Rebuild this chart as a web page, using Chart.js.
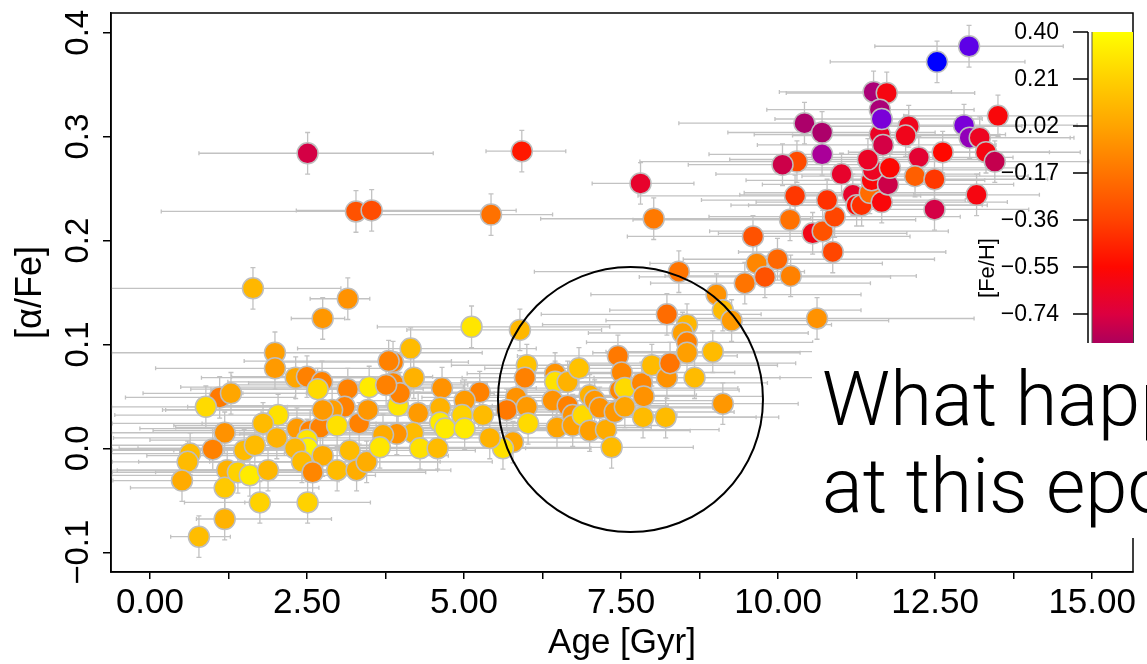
<!DOCTYPE html>
<html>
<head>
<meta charset="utf-8">
<script src="https://cdn.jsdelivr.net/npm/chart.js@4.4.0/dist/chart.umd.min.js"></script>
<style>
  html, body { margin: 0; padding: 0; background: #fff; }
</style>
</head>
<body>
<canvas id="alphaChart" width="1147" height="664"></canvas>
<script>
// --- dados: idade (Gyr), [alpha/Fe], [Fe/H], barras de erro em idade ---
const age = [
  2.51, 3.28, 3.53, 5.43, 5.92, 7.81, 8.02, 1.64, 3.15, 2.75, 5.12, 5.89, 8.42, 8.23, 8.55, 9.02, 9.12, 9.26, 9.47, 9.66,
  9.79, 9.99, 10.20, 9.60, 10.19, 10.62, 10.55, 10.71, 10.87, 10.90, 10.78, 10.27, 10.30, 10.07, 10.42, 10.70, 10.70, 11.01, 11.19, 11.25,
  11.33, 11.46, 11.65, 11.49, 11.51, 11.43, 11.75, 11.78, 11.62, 11.67, 11.52, 11.73, 11.62, 11.65, 12.08, 12.03, 12.62, 12.24, 12.18, 12.49,
  12.49, 13.16, 12.53, 13.04, 12.96, 13.05, 13.21, 13.31, 13.45, 13.50,
  6.00, 5.97, 5.83, 5.68, 6.00, 6.02, 5.78, 5.62, 6.45, 6.45, 6.65, 6.83, 6.41, 6.65, 6.48, 6.73, 6.73, 6.89, 7.00, 7.08,
  7.16, 7.00, 7.26, 7.35, 7.45, 7.51, 7.48, 7.56, 7.40, 7.56, 7.83, 7.86, 7.85, 8.21, 7.99, 8.23, 8.28, 8.67, 8.48, 8.55,
  8.55, 8.96, 9.12,
  4.15, 4.20, 3.87, 3.87, 3.95, 3.98, 4.27, 4.19, 3.93, 4.30, 4.65, 4.62, 4.62, 4.70, 4.58, 5.25, 5.01, 4.97, 5.01, 5.30, 5.41,
  1.99, 1.99, 2.32, 2.50, 2.74, 2.67, 3.15, 3.49, 3.80, 3.76, 1.11, 1.29, 0.89, 2.04, 1.80, 2.02, 1.19, 1.00, 0.64, 0.60,
  0.51, 1.23, 1.19, 1.40, 1.59, 1.50, 1.67, 1.88, 2.34, 2.55, 2.71, 2.50, 2.51, 2.31, 2.42, 2.75, 2.59, 2.98, 3.18, 3.29,
  3.45, 3.71, 3.66, 3.33, 3.10, 2.90, 2.75, 2.98, 3.47, 1.75, 2.51, 1.19, 0.78
];
const alphaFe = [
  0.284, 0.228, 0.229, 0.225, 0.286, 0.255, 0.221, 0.154, 0.144, 0.125, 0.117, 0.114, 0.170, 0.129, 0.119, 0.148, 0.133, 0.123, 0.159, 0.178,
  0.165, 0.182, 0.166, 0.204, 0.220, 0.125, 0.207, 0.209, 0.189, 0.223, 0.239, 0.243, 0.276, 0.273, 0.313, 0.304, 0.283, 0.264, 0.244, 0.234,
  0.234, 0.246, 0.237, 0.258, 0.268, 0.278, 0.254, 0.270, 0.302, 0.292, 0.343, 0.342, 0.326, 0.317, 0.310, 0.301, 0.285, 0.280, 0.262, 0.259,
  0.230, 0.244, 0.372, 0.387, 0.311, 0.299, 0.299, 0.285, 0.276, 0.320,
  0.080, 0.068, 0.049, 0.037, 0.040, 0.024, 0.006, 0.000, 0.072, 0.064, 0.064, 0.077, 0.046, 0.041, 0.020, 0.032, 0.022, 0.032, 0.051, 0.046,
  0.039, 0.017, 0.018, 0.001, 0.089, 0.073, 0.056, 0.058, 0.035, 0.040, 0.063, 0.050, 0.030, 0.030, 0.080, 0.068, 0.082, 0.068, 0.111, 0.102,
  0.092, 0.093, 0.043,
  0.096, 0.068, 0.083, 0.063, 0.041, 0.053, 0.034, 0.015, 0.014, 0.000, 0.058, 0.039, 0.025, 0.019, 0.000, 0.054, 0.046, 0.032, 0.019, 0.032, 0.010,
  0.092, 0.077, 0.068, 0.069, 0.064, 0.057, 0.057, 0.059, 0.084, 0.061, 0.049, 0.053, 0.040, 0.032, 0.024, 0.010, 0.015, -0.001, -0.005, -0.013,
  -0.031, -0.021, -0.038, -0.023, -0.026, -0.002, 0.003, -0.021, 0.019, 0.017, 0.020, 0.008, 0.000, 0.000, -0.013, -0.007, -0.023, -0.021, -0.002, -0.021,
  -0.013, 0.013, 0.001, 0.024, 0.040, 0.037, 0.037, 0.022, 0.037, -0.052, -0.052, -0.068, -0.085
];
const feh = [
  -0.76, -0.30, -0.32, -0.18, -0.50, -0.68, -0.15, 0.10, -0.05, -0.03, 0.30, 0.10, -0.17, -0.20, 0.10, -0.05, 0.12, -0.02, -0.17, -0.10,
  -0.30, -0.22, -0.12, -0.30, -0.18, -0.05, -0.62, -0.30, -0.35, -0.35, -0.42, -0.40, -0.33, -0.78, -0.88, -0.88, -0.95, -0.68, -0.68, -0.55,
  -0.42, -0.20, -0.58, -0.57, -0.65, -0.66, -0.78, -0.56, -0.66, -0.76, -0.90, -0.60, -0.90, -1.05, -0.63, -0.63, -0.55, -0.70, -0.25, -0.40,
  -0.76, -0.60, -1.25, -1.12, -1.05, -1.00, -0.65, -0.60, -0.80, -0.58,
  0.15, -0.12, -0.05, -0.15, -0.02, 0.25, 0.03, 0.28, -0.05, 0.28, 0.08, 0.15, -0.05, -0.12, 0.02, -0.05, 0.00, 0.25, 0.08, -0.03,
  -0.05, 0.00, 0.05, 0.12, -0.15, -0.10, -0.10, 0.25, -0.03, 0.02, -0.10, -0.05, 0.12, 0.12, 0.12, -0.05, -0.17, 0.12, 0.00, -0.12,
  0.00, 0.12, -0.03,
  0.12, 0.08, -0.12, -0.10, 0.30, -0.12, -0.02, 0.12, -0.05, 0.28, -0.05, 0.08, 0.32, 0.32, 0.12, -0.12, -0.02, 0.22, 0.32, 0.12, 0.08,
  0.00, -0.02, 0.03, -0.12, -0.12, 0.25, -0.12, 0.32, -0.12, -0.12, -0.15, 0.03, 0.25, 0.28, 0.12, 0.08, -0.05, -0.12, 0.12, 0.12,
  0.05, 0.08, 0.18, 0.22, 0.32, 0.12, 0.12, 0.10, -0.02, -0.12, -0.12, 0.30, 0.35, 0.10, 0.12, 0.06, -0.10, 0.12, 0.12, 0.06,
  0.06, 0.05, 0.30, -0.12, -0.12, 0.00, -0.02, 0.28, -0.03, 0.22, 0.22, 0.08, 0.13
];
const ageErrLo = [
  1.73, 3.10, 1.20, 2.00, 0.57, 0.77, 1.80, 2.30, 0.60, 0.50, 1.50, 1.80, 2.30, 2.00, 2.30, 2.00, 1.80, 2.00, 1.50, 1.70,
  2.00, 1.50, 2.00, 2.00, 2.50, 2.20, 1.50, 1.80, 1.50, 2.00, 2.00, 2.50, 2.50, 1.50, 2.00, 1.50, 1.80, 2.00, 1.80, 2.00,
  1.80, 2.00, 2.00, 2.00, 1.50, 2.20, 2.00, 1.80, 2.00, 2.00, 1.50, 1.60, 1.80, 1.70, 1.50, 1.80, 1.50, 2.00, 1.80, 1.50,
  1.20, 1.00, 1.70, 1.50, 1.40, 1.50, 1.50, 1.50, 1.30, 1.50,
  1.20, 1.00, 1.50, 1.30, 1.50, 1.50, 1.20, 1.00, 1.40, 1.50, 1.40, 1.50, 1.50, 1.80, 1.60, 1.70, 1.50, 1.50, 1.60, 1.80,
  1.50, 2.00, 1.80, 1.60, 1.60, 1.50, 1.50, 1.60, 1.70, 1.50, 1.50, 1.50, 1.40, 1.30, 1.50, 1.80, 1.60, 1.60, 1.50, 1.60,
  1.50, 1.70, 1.30,
  1.80, 2.00, 2.00, 2.30, 3.00, 2.50, 2.50, 2.20, 2.50, 2.50, 1.80, 1.90, 2.00, 2.20, 1.50, 1.40, 1.50, 2.20, 1.80, 1.80, 1.50,
  2.60, 1.90, 1.50, 1.20, 1.50, 1.70, 2.50, 3.00, 2.30, 2.50, 1.50, 1.40, 1.50, 2.60, 2.40, 2.60, 1.80, 1.60, 1.30, 1.20,
  1.10, 1.90, 1.50, 2.00, 2.20, 2.10, 2.30, 2.40, 2.50, 2.50, 2.30, 2.50, 3.00, 2.50, 2.60, 2.80, 2.50, 2.50, 2.80, 2.80,
  2.50, 2.60, 2.60, 2.50, 2.50, 2.70, 2.50, 2.60, 2.50, 1.20, 1.00, 0.45, 0.45
];
const ageErrHi = [
  2.00, 2.00, 2.30, 0.98, 0.70, 0.85, 2.50, 1.40, 0.35, 0.35, 2.20, 1.30, 2.00, 1.50, 2.30, 2.30, 2.20, 2.50, 2.00, 2.00,
  2.00, 2.50, 2.00, 2.50, 2.00, 2.50, 1.50, 2.00, 1.80, 2.00, 2.20, 2.00, 2.00, 1.80, 1.50, 1.80, 1.50, 2.20, 2.00, 2.00,
  2.00, 1.80, 2.00, 1.80, 2.00, 1.80, 2.00, 2.00, 2.00, 1.80, 1.24, 1.40, 1.50, 1.60, 1.80, 1.50, 1.70, 1.50, 1.80, 1.80,
  1.50, 1.00, 1.40, 1.50, 1.80, 1.60, 1.50, 1.50, 1.50, 1.80,
  1.60, 1.80, 1.60, 2.00, 1.50, 1.40, 1.50, 1.40, 1.60, 1.70, 1.50, 1.30, 1.80, 1.60, 1.50, 1.50, 1.50, 1.50, 1.70, 2.00,
  1.80, 1.60, 1.80, 1.30, 1.90, 1.80, 1.90, 1.80, 1.90, 1.50, 2.00, 1.90, 1.80, 1.80, 2.00, 1.80, 2.00, 2.10, 2.00, 2.00,
  1.80, 1.90, 1.20,
  2.00, 2.30, 1.20, 1.50, 1.50, 1.50, 1.30, 1.50, 1.50, 1.30, 1.50, 1.50, 1.40, 1.50, 1.40, 1.40, 1.60, 1.50, 1.50, 1.60, 1.80,
  3.30, 2.00, 1.50, 2.00, 1.80, 1.50, 1.20, 1.50, 1.00, 1.30, 1.20, 1.20, 1.30, 1.50, 1.80, 1.80, 1.80, 1.70, 1.50, 2.00,
  2.50, 1.50, 1.50, 1.50, 2.00, 1.80, 2.00, 1.50, 1.60, 2.00, 2.00, 1.60, 2.00, 2.00, 2.20, 2.00, 1.80, 1.60, 2.00, 1.50,
  2.00, 1.80, 1.80, 1.80, 1.50, 1.50, 1.50, 1.70, 1.50, 0.90, 1.00, 1.70, 0.50
];
const alphaErr = 0.02;

const xTickStep = 1.25;
const yTickStep = 0.1;
const cbTicks = [0.40, 0.21, 0.02, -0.17, -0.36, -0.55, -0.74];

// escala de cor [Fe/H] (amarelo -> laranja -> vermelho -> magenta -> azul)
const cmapVals = [0.40, 0.21, 0.02, -0.17, -0.36, -0.55, -0.74, -0.86, -0.95, -1.05, -1.15, -1.25];
const cmapCols = ['#ffff00', '#ffd000', '#ffa400', '#ff7400', '#ff4300', '#ff0800', '#dc0040', '#ac005c',
                  '#aa0099', '#7a00d8', '#5000ee', '#0000ff'];

function hexToRgb(h) {
    return [parseInt(h.slice(1, 3), 16), parseInt(h.slice(3, 5), 16), parseInt(h.slice(5, 7), 16)];
}

function fehColor(v) {
    if (v >= cmapVals[0]) return cmapCols[0];
    for (let i = 0; i < cmapVals.length - 1; i++) {
        if (v <= cmapVals[i] && v >= cmapVals[i + 1]) {
            const t = (cmapVals[i] - v) / (cmapVals[i] - cmapVals[i + 1]);
            const a = hexToRgb(cmapCols[i]), b = hexToRgb(cmapCols[i + 1]);
            const c = a.map((x, k) => Math.round(x + (b[k] - x) * t));
            return 'rgb(' + c.join(',') + ')';
        }
    }
    return cmapCols[cmapCols.length - 1];
}

function fmtNum(v, d) {
    const s = Math.abs(v).toFixed(d);
    return v < -1e-9 ? '\u2212' + s : s;
}

const FONT = '"Liberation Sans", Arial, Helvetica, sans-serif';

// --- barras de erro (desenhadas atrás dos pontos) ---
const errorBarsPlugin = {
    id: 'errorBars',
    beforeDatasetsDraw(chart) {
        const { ctx, chartArea, scales: { x, y } } = chart;
        ctx.save();
        ctx.beginPath();
        ctx.rect(chartArea.left, chartArea.top, chartArea.right - chartArea.left, chartArea.bottom - chartArea.top);
        ctx.clip();
        ctx.strokeStyle = '#c2c2c2';
        ctx.lineWidth = 1.3;
        for (let i = 0; i < age.length; i++) {
            const py = y.getPixelForValue(alphaFe[i]);
            const px = x.getPixelForValue(age[i]);
            const x0 = x.getPixelForValue(age[i] - ageErrLo[i]);
            const x1 = x.getPixelForValue(age[i] + ageErrHi[i]);
            const y0 = y.getPixelForValue(alphaFe[i] - alphaErr);
            const y1 = y.getPixelForValue(alphaFe[i] + alphaErr);
            ctx.beginPath();
            ctx.moveTo(x0, py); ctx.lineTo(x1, py);
            ctx.moveTo(x0, py - 2); ctx.lineTo(x0, py + 2);
            ctx.moveTo(x1, py - 2); ctx.lineTo(x1, py + 2);
            ctx.moveTo(px, y0); ctx.lineTo(px, y1);
            ctx.moveTo(px - 2.5, y0); ctx.lineTo(px + 2.5, y0);
            ctx.moveTo(px - 2.5, y1); ctx.lineTo(px + 2.5, y1);
            ctx.stroke();
        }
        ctx.restore();
    }
};

// --- moldura, rótulos do eixo y, círculo, barra de cor e texto ---
const decorPlugin = {
    id: 'decor',
    afterDraw(chart) {
        const { ctx, chartArea: ca, scales: { x, y } } = chart;
        ctx.save();

        // moldura
        ctx.strokeStyle = '#000';
        ctx.lineWidth = 1.5;
        ctx.strokeRect(ca.left, ca.top, ca.right - ca.left, ca.bottom - ca.top);

        // rótulos do eixo y (girados, como no R)
        ctx.fillStyle = '#000';
        ctx.font = '33px ' + FONT;
        ctx.textAlign = 'center';
        ctx.textBaseline = 'alphabetic';
        y.ticks.forEach(t => {
            const py = y.getPixelForValue(t.value);
            ctx.save();
            ctx.translate(ca.left - 23, py);
            ctx.rotate(-Math.PI / 2);
            ctx.fillText(fmtNum(t.value, 1), 0, 0);
            ctx.restore();
        });

        // círculo
        ctx.beginPath();
        ctx.arc(x.getPixelForValue(7.65), y.getPixelForValue(0.047), 132.5, 0, Math.PI * 2);
        ctx.strokeStyle = '#000';
        ctx.lineWidth = 2;
        ctx.stroke();

        // barra de cor [Fe/H]
        const cbLeft = ca.right - 41;
        const cbTop = ca.top + 19;
        const cbScale = 247.4;
        const cbVal = v => cbTop + (cbTicks[0] - v) * cbScale;
        const cbBottom = cbVal(-0.95);
        const grad = ctx.createLinearGradient(0, cbTop, 0, cbBottom);
        cmapVals.forEach((v, i) => {
            const t = (cmapVals[0] - v) / (cmapVals[0] + 0.95);
            if (t >= 0 && t <= 1) grad.addColorStop(t, cmapCols[i]);
        });
        ctx.fillStyle = grad;
        ctx.fillRect(cbLeft, cbTop, ca.right - cbLeft, cbBottom - cbTop);
        ctx.strokeStyle = '#555';
        ctx.lineWidth = 1;
        ctx.beginPath();
        ctx.moveTo(cbLeft, cbTop); ctx.lineTo(cbLeft, cbBottom);
        ctx.stroke();

        ctx.strokeStyle = '#000';
        ctx.lineWidth = 1.5;
        ctx.beginPath();
        ctx.moveTo(cbLeft - 4, cbTop); ctx.lineTo(cbLeft - 4, cbBottom);
        cbTicks.forEach(v => {
            ctx.moveTo(cbLeft - 19, cbVal(v)); ctx.lineTo(cbLeft - 4, cbVal(v));
        });
        ctx.stroke();
        ctx.fillStyle = '#000';
        ctx.font = '23px ' + FONT;
        ctx.textAlign = 'right';
        ctx.textBaseline = 'middle';
        cbTicks.forEach(v => ctx.fillText(fmtNum(v, 2), cbLeft - 33, cbVal(v) + 1));

        ctx.save();
        ctx.translate(cbLeft - 104, cbTop + 236);
        ctx.rotate(-Math.PI / 2);
        ctx.font = '22px ' + FONT;
        ctx.textAlign = 'center';
        ctx.textBaseline = 'middle';
        ctx.fillText('[Fe/H]', 0, 0);
        ctx.restore();

        // caixa branca com a pergunta
        ctx.fillStyle = '#fff';
        ctx.fillRect(812, 343, chart.width - 812, 195);
        ctx.fillStyle = '#000';
        ctx.font = '300 76px Roboto, "Liberation Sans", sans-serif';
        ctx.textAlign = 'left';
        ctx.textBaseline = 'alphabetic';
        ctx.fillText('What happened', 822, 425);
        ctx.fillText('at this epoch?', 822, 512);

        ctx.restore();
    }
};

const ctxAlpha = document.getElementById('alphaChart').getContext('2d');
new Chart(ctxAlpha, {
    type: 'scatter',
    data: {
        datasets: [{
            label: 'stars',
            data: age.map((a, i) => ({ x: a, y: alphaFe[i] })),
            pointBackgroundColor: feh.map(fehColor),
            pointBorderColor: '#bebebe',
            pointBorderWidth: 1.5,
            pointRadius: 10.5,
            pointHoverRadius: 10.5
        }]
    },
    options: {
        responsive: false,
        animation: false,
        layout: { padding: { top: 13, right: 14, left: 0, bottom: 0 } },
        plugins: { legend: { display: false }, tooltip: { enabled: false } },
        scales: {
            x: {
                type: 'linear',
                min: -0.62,
                max: 15.65,
                afterFit: s => { s.height = 92; },
                border: { display: true, color: '#000', width: 1.5 },
                grid: { drawOnChartArea: false, drawTicks: true, tickLength: 7, color: '#000', lineWidth: 1.5 },
                ticks: {
                    stepSize: xTickStep,
                    includeBounds: false,
                    autoSkip: false,
                    maxRotation: 0,
                    padding: 3,
                    color: '#000',
                    font: { family: FONT, size: 35 },
                    callback: v => Math.abs(v / 2.5 - Math.round(v / 2.5)) < 1e-6 ? v.toFixed(2) : ''
                },
                title: {
                    display: true,
                    text: 'Age [Gyr]',
                    color: '#000',
                    font: { family: FONT, size: 35 },
                    padding: { top: 0, bottom: 0 }
                }
            },
            y: {
                min: -0.119,
                max: 0.419,
                afterFit: s => { s.width = 111; },
                border: { display: true, color: '#000', width: 1.5 },
                grid: { drawOnChartArea: false, drawTicks: true, tickLength: 8, color: '#000', lineWidth: 1.5 },
                ticks: {
                    display: false,
                    stepSize: yTickStep,
                    includeBounds: false
                },
                title: {
                    display: true,
                    text: '[α/Fe]',
                    color: '#000',
                    font: { family: FONT, size: 36 },
                    padding: { top: 9, bottom: 0 }
                }
            }
        }
    },
    plugins: [errorBarsPlugin, decorPlugin]
});
</script>
</body>
</html>
